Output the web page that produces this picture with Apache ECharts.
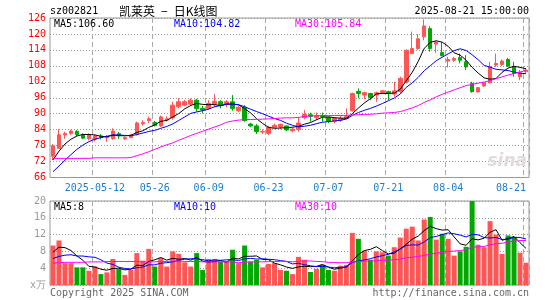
<!DOCTYPE html>
<html><head><meta charset="utf-8">
<script src="https://cdn.jsdelivr.net/npm/echarts@6/dist/echarts.min.js"></script>
<style>html,body{margin:0;padding:0;background:#fff}#c{width:545px;height:300px}</style>
</head><body><div id="c"></div>
<script>
// ---- data ----
const dates = [
 '2025-04-28','2025-04-29','2025-04-30','2025-05-06','2025-05-07','2025-05-08','2025-05-09',
 '2025-05-12','2025-05-13','2025-05-14','2025-05-15','2025-05-16',
 '2025-05-19','2025-05-20','2025-05-21','2025-05-22','2025-05-23',
 '2025-05-26','2025-05-27','2025-05-28','2025-05-29','2025-05-30',
 '2025-06-03','2025-06-04','2025-06-05','2025-06-06',
 '2025-06-09','2025-06-10','2025-06-11','2025-06-12','2025-06-13',
 '2025-06-16','2025-06-17','2025-06-18','2025-06-19','2025-06-20',
 '2025-06-23','2025-06-24','2025-06-25','2025-06-26','2025-06-27',
 '2025-06-30','2025-07-01','2025-07-02','2025-07-03','2025-07-04',
 '2025-07-07','2025-07-08','2025-07-09','2025-07-10','2025-07-11',
 '2025-07-14','2025-07-15','2025-07-16','2025-07-17','2025-07-18',
 '2025-07-21','2025-07-22','2025-07-23','2025-07-24','2025-07-25',
 '2025-07-28','2025-07-29','2025-07-30','2025-07-31','2025-08-01',
 '2025-08-04','2025-08-05','2025-08-06','2025-08-07','2025-08-08',
 '2025-08-11','2025-08-12','2025-08-13','2025-08-14','2025-08-15',
 '2025-08-18','2025-08-19','2025-08-20','2025-08-21'
];
const xTickDates = ['2025-05-12','2025-05-26','2025-06-09','2025-06-23','2025-07-07','2025-07-21','2025-08-04','2025-08-21'];

const opens = [74.0,77.0,82.0,82.6,83.4,82.1,80.6,80.4,81.6,80.9,
 80.6,82.5,80.5,81.0,82.2,86.2,87.4,86.7,85.4,87.6,
 88.5,92.6,93.2,93.6,95.1,92.0,92.0,93.5,94.5,93.5,
 94.5,91.1,92.4,86.1,85.4,83.1,82.6,84.9,85.0,85.4,
 83.6,84.1,88.5,89.6,88.6,89.2,88.6,87.2,87.6,88.2,
 91.1,98.4,97.0,97.6,97.0,97.9,98.3,97.4,98.3,102.0,
 112.6,114.5,118.9,122.0,116.2,113.0,109.8,110.1,111.1,109.5,
 101.4,98.2,100.4,101.6,108.3,108.5,110.4,107.6,103.9,105.8];
const closes = [77.9,82.1,82.5,83.5,82.1,80.8,82.0,81.6,81.1,81.2,
 83.5,81.6,81.0,82.0,86.5,86.7,88.1,85.6,88.8,88.1,
 93.2,94.5,94.5,95.1,92.0,91.4,93.9,94.7,93.1,94.5,
 92.0,92.4,87.4,85.4,83.3,83.3,84.9,85.6,86.0,83.9,
 84.2,86.5,89.7,89.0,89.2,88.9,87.2,88.2,88.2,88.9,
 97.6,97.6,97.9,96.1,97.9,98.6,97.6,98.6,103.3,113.9,
 114.5,118.2,123.0,114.5,117.0,111.8,110.4,110.8,110.1,107.6,
 98.3,99.8,101.6,107.6,108.9,109.8,107.9,105.1,105.4,106.4];
const lows = [72.6,76.8,80.6,82.0,81.5,80.4,80.0,79.5,80.3,79.4,
 80.2,80.5,80.2,80.8,81.8,85.5,86.4,85.2,85.0,87.0,
 87.8,92.0,92.8,93.0,90.8,90.1,91.4,92.4,92.0,92.4,
 91.1,90.5,87.0,84.9,82.4,82.4,82.0,84.5,84.1,83.4,
 83.0,83.2,87.9,87.0,87.6,87.0,86.4,86.4,86.9,88.0,
 90.8,95.8,95.4,95.1,94.5,97.4,95.1,96.4,97.6,101.4,
 112.6,114.0,117.6,113.3,112.9,111.6,107.4,109.5,108.9,106.4,
 97.9,97.9,100.1,101.4,107.6,107.9,107.6,103.9,102.6,105.4];
const highs = [78.6,84.2,83.2,84.0,83.8,82.6,82.6,82.2,82.3,82.0,
 84.5,83.1,81.4,82.2,87.0,87.5,88.9,87.3,89.3,89.0,
 94.5,95.8,95.2,95.8,95.6,92.9,95.1,97.4,95.1,95.1,
 97.0,93.0,93.2,86.6,86.1,84.1,85.4,86.2,86.3,85.4,
 84.8,88.6,91.4,90.4,90.4,90.4,88.9,88.6,89.2,92.0,
 97.9,99.5,98.3,97.9,98.3,98.9,98.6,102.0,103.9,114.1,
 120.9,119.9,125.5,122.9,117.4,117.0,111.4,111.4,112.6,112.0,
 102.0,100.1,102.0,109.5,112.6,110.4,111.0,109.5,106.4,107.0];
const volumes = [9.4,10.6,5.2,5.2,4.2,4.2,3.4,4.4,2.6,3.0,
 6.2,3.8,2.4,3.6,7.6,5.8,8.6,4.4,6.4,4.4,
 8.0,7.4,5.4,4.4,7.6,3.6,6.2,6.2,5.6,5.6,
 8.4,5.2,9.4,5.6,6.0,4.2,5.0,5.2,3.6,3.4,
 2.6,6.7,6.0,3.1,3.8,4.8,3.6,3.4,4.6,4.8,
 12.4,11.0,8.2,6.0,8.0,7.8,7.0,9.0,11.3,13.4,
 13.9,10.6,15.6,16.2,10.8,12.2,11.0,7.0,8.0,9.1,
 20.0,9.6,9.0,15.2,12.0,7.4,11.8,11.4,7.7,5.3];

// MA values for the days whose window starts before the chart
const ma5Head = [72.6,75.9,78.6,80.4];
const ma10Head = [68.2,70.3,72.5,74.6,76.6,78.2,79.5,80.4,81.0];
const ma30Head = [73.2,73.2,73.2,73.2,73.2,73.2,73.2,73.4,73.4,73.4,73.4,73.4,73.4,73.5,
 74.2,74.9,75.7,76.6,77.5,78.3,79.0,80.0,80.9,81.8,82.6,83.4,84.2,85.0,85.8];
const vma5Head = [7.8,9.0,8.9,8.2];
const vma10Head = [6.3,6.8,7.1,7.2,6.9,6.9,6.7,6.6,6.0];
const vma30Head = [5.2,5.3,5.4,5.4,5.4,5.4,5.5,5.5,5.5,5.6,5.6,5.6,5.6,5.6,5.6,
 5.5,5.5,5.5,5.6,5.6,5.7,5.7,5.6,5.6,5.6,5.5,5.5,5.5,5.5];

const maLabels = ['MA5:106.60','MA10:104.82','MA30:105.84'];
const volMaLabels = ['MA5:8','MA10:10','MA30:10'];

function movingAverage(vals, n, head) {
  return vals.map((v, i) => {
    if (i < n - 1) return head[i];
    let s = 0; for (let k = i - n + 1; k <= i; k++) s += vals[k];
    return +(s / n).toFixed(3);
  });
}

const RED = '#ff5555', GREEN = '#00a800';
const MONO = '"DejaVu Sans Mono", monospace';
const labelIdx = new Set(xTickDates.map(d => dates.indexOf(d)));
const firstIdx = dates.indexOf(xTickDates[0]);

const chart = echarts.init(document.getElementById('c'), null, {renderer: 'canvas'});

const kData = dates.map((d, i) => [opens[i], closes[i], lows[i], highs[i]]);
const volData = volumes.map((v, i) => ({value: v, itemStyle: {color: closes[i] >= opens[i] ? RED : GREEN}}));

function lineSeries(data, color, xi, yi) {
  return {type: 'line', data, xAxisIndex: xi, yAxisIndex: yi, showSymbol: false, symbol: 'none',
    smooth: false, lineStyle: {color, width: 1}, itemStyle: {color}, z: 5, silent: true};
}

function txt(x, y, text, color, font, align) {
  return {type: 'text', x, y, silent: true, z: 100,
    style: {text, fill: color, font, align: align || 'left', verticalAlign: 'middle'}};
}

const vSplit = {show: true, interval: (i) => labelIdx.has(i), lineStyle: {color: '#aaa', type: [5, 3], width: 1}};

chart.setOption({
  animation: false,
  backgroundColor: '#fff',
  grid: [
    {left: 50, right: 16, top: 18, height: 159.5, show: true, borderColor: '#999', borderWidth: 1, containLabel: false, outerBoundsMode: 'none'},
    {left: 50, right: 16, top: 201, height: 84, show: true, borderColor: '#999', borderWidth: 1, containLabel: false, outerBoundsMode: 'none'}
  ],
  xAxis: [
    {type: 'category', gridIndex: 0, data: dates, boundaryGap: true,
      axisLine: {show: false}, axisTick: {show: false},
      axisLabel: {show: true, interval: (i) => labelIdx.has(i), color: '#1a7fd0', fontFamily: MONO, fontSize: 10, margin: 6,
        hideOverlap: false, alignMaxLabel: 'right',
        formatter: (v, i) => (dates.indexOf(v) === firstIdx ? v : v.slice(5))},
      splitLine: vSplit},
    {type: 'category', gridIndex: 1, data: dates, boundaryGap: true,
      axisLine: {show: false}, axisTick: {show: false}, axisLabel: {show: false},
      splitLine: vSplit}
  ],
  yAxis: [
    {type: 'value', gridIndex: 0, min: 66, max: 126, interval: 6, scale: true,
      axisLine: {show: false}, axisTick: {show: false},
      axisLabel: {color: '#ff0000', fontFamily: MONO, fontSize: 10, margin: 4},
      splitLine: {show: true, lineStyle: {color: '#999', type: [1, 2], width: 1}}},
    {type: 'value', gridIndex: 1, min: 0, max: 20, interval: 4,
      axisLine: {show: false}, axisTick: {show: false},
      axisLabel: {color: '#999', fontFamily: MONO, fontSize: 10, margin: 4,
        formatter: (v) => (v === 0 ? 'x万' : String(v))},
      splitLine: {show: true, lineStyle: {color: '#999', type: [1, 2], width: 1}}}
  ],
  series: [
    {type: 'candlestick', xAxisIndex: 0, yAxisIndex: 0, data: kData, barWidth: 4,
      itemStyle: {color: RED, color0: GREEN, borderColor: RED, borderColor0: GREEN, borderWidth: 1}},
    lineSeries(movingAverage(closes, 5, ma5Head), '#000000', 0, 0),
    lineSeries(movingAverage(closes, 10, ma10Head), '#0000ff', 0, 0),
    lineSeries(movingAverage(closes, 30, ma30Head), '#ff00ff', 0, 0),
    {type: 'bar', xAxisIndex: 1, yAxisIndex: 1, data: volData, barWidth: 5},
    lineSeries(movingAverage(volumes, 5, vma5Head), '#000000', 1, 1),
    lineSeries(movingAverage(volumes, 10, vma10Head), '#0000ff', 1, 1),
    lineSeries(movingAverage(volumes, 30, vma30Head), '#ff00ff', 1, 1)
  ],
  graphic: [
    txt(50, 11, 'sz002821', '#000', '10px ' + MONO),
    txt(119, 11, '凯莱英\u2002\u2212\u2002日K线图', '#000', '12px "Noto Sans CJK SC", sans-serif'),
    txt(529, 11.5, '2025-08-21 15:00:00', '#000', '10px ' + MONO, 'right'),
    txt(54, 24, maLabels[0], '#000000', '10px ' + MONO),
    txt(174, 24, maLabels[1], '#0000ff', '10px ' + MONO),
    txt(295, 24, maLabels[2], '#ff00ff', '10px ' + MONO),
    txt(54, 207, volMaLabels[0], '#000000', '10px ' + MONO),
    txt(174, 207, volMaLabels[1], '#0000ff', '10px ' + MONO),
    txt(295, 207, volMaLabels[2], '#ff00ff', '10px ' + MONO),
    txt(50, 293, 'Copyright 2025 SINA.COM', '#666', '10px ' + MONO),
    txt(529, 293, 'http://finance.sina.com.cn', '#666', '10px ' + MONO, 'right'),
    {type: 'text', x: 527, y: 162, silent: true, z: 1,
      style: {text: 'sina', fill: '#e2dada', font: 'italic bold 17px "DejaVu Sans", sans-serif', align: 'right', verticalAlign: 'middle'}}
  ]
});
</script>
</body></html>
